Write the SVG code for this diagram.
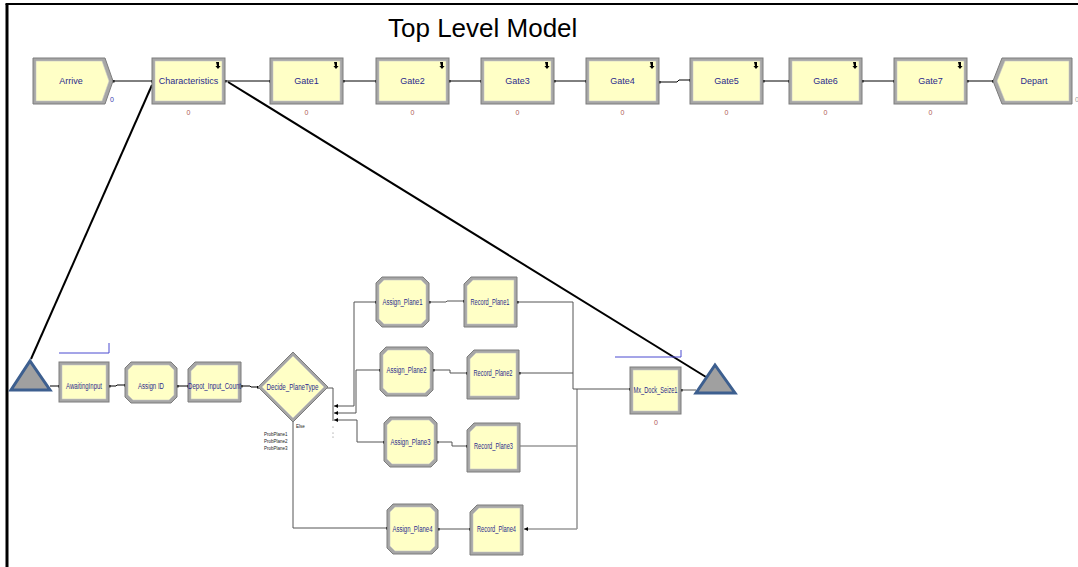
<svg xmlns="http://www.w3.org/2000/svg" width="1078" height="567" viewBox="0 0 1078 567">
<defs>
<style>
.o{fill:#a6a6a6;stroke:#7c7c7c;stroke-width:1}
.i{fill:#ffffc6;stroke:#c8c8c8;stroke-width:0.6}
.t{font-family:"Liberation Sans",Arial,sans-serif;font-size:9px;fill:#2b2b8c;text-anchor:middle}
.b{font-family:"Liberation Sans",Arial,sans-serif;font-size:8.5px;fill:#2b2b8c;text-anchor:middle}
.cnt{font-family:"Liberation Sans",Arial,sans-serif;font-size:7px;fill:#b05858;text-anchor:middle}
.sm{font-family:"Liberation Sans",Arial,sans-serif;font-size:4.5px;fill:#222}
.c{fill:none;stroke:#000;stroke-width:1}
.g{fill:none;stroke:#555;stroke-width:1}
.gg{fill:none;stroke:#999;stroke-width:1.6}
.thick{fill:none;stroke:#000;stroke-width:2}
.tri{fill:#a0a0a0;stroke:#3d5f8f;stroke-width:3;stroke-linejoin:miter}
.q{fill:none;stroke:#4a4ad0;stroke-width:1}
.ic{fill:#000}
</style>
<marker id="dot" viewBox="0 0 4 4" refX="2" refY="2" markerWidth="3" markerHeight="3" markerUnits="userSpaceOnUse"><rect width="4" height="4" fill="#000"/></marker>
<marker id="arr" viewBox="0 0 6 6" refX="6" refY="3" markerWidth="4" markerHeight="4" markerUnits="userSpaceOnUse" orient="auto"><path d="M0,0 L6,3 L0,6 z" fill="#000"/></marker>
<path id="icon" d="M0,0 h3 v4 h1.6 l-2.6,3 l-2.6,-3 h1.6 z"/>
</defs>
<rect width="1078" height="567" fill="#fff"/>
<path d="M7,567 V4" fill="none" stroke="#000" stroke-width="3"/>
<path d="M5.5,4 H1078" fill="none" stroke="#000" stroke-width="2"/>
<text x="388" y="37" font-family="Liberation Sans, Arial, sans-serif" font-size="26" fill="#000">Top Level Model</text>

<g id="connectors">
<path class="c" d="M113,81 H152" marker-start="url(#dot)" marker-end="url(#dot)"/>
<path class="c" d="M225,81 H270" marker-start="url(#dot)" marker-end="url(#dot)"/>
<path class="c" d="M343,81 H376" marker-start="url(#dot)" marker-end="url(#dot)"/>
<path class="c" d="M449,81 H481" marker-start="url(#dot)" marker-end="url(#dot)"/>
<path class="c" d="M554,81 H586" marker-start="url(#dot)" marker-end="url(#dot)"/>
<path class="c" d="M659,82 H677 L679,80 H690" marker-start="url(#dot)" marker-end="url(#dot)"/>
<path class="c" d="M763,81 H789" marker-start="url(#dot)" marker-end="url(#dot)"/>
<path class="c" d="M862,81 H894" marker-start="url(#dot)" marker-end="url(#dot)"/>
<path class="c" d="M967,81 H993" marker-start="url(#dot)" marker-end="url(#dot)"/>
<path class="thick" d="M152,85 L31,359"/>
<path class="thick" d="M228,82 L706,377"/>
<path class="c" d="M50,386 H59" marker-end="url(#dot)"/>
<path class="c" d="M109,386 H116 L117,385 H125" marker-start="url(#dot)" marker-end="url(#dot)"/>
<path class="c" d="M177,386 H188" marker-start="url(#dot)" marker-end="url(#dot)"/>
<path class="c" d="M241,386 H250 L251,387 H258" marker-start="url(#dot)" marker-end="url(#dot)"/>
<path class="g" d="M326,388 H333 V421"/>
<path class="g" d="M354,406 H334" marker-end="url(#arr)"/>
<path class="g" d="M356,413 H334" marker-end="url(#arr)"/>
<path class="g" d="M357,420 H334" marker-end="url(#arr)"/>
<path class="g" d="M354,406 V302 H376" marker-end="url(#dot)"/>
<path class="g" d="M356,413 V370 H380" marker-end="url(#dot)"/>
<path class="g" d="M357,420 V442 H384" marker-end="url(#dot)"/>
<path class="g" d="M293,422 V528 H387" marker-end="url(#dot)"/>
<circle cx="333" cy="427" r="0.6" fill="#777"/>
<circle cx="333" cy="433" r="0.6" fill="#777"/>
<circle cx="333" cy="437" r="0.6" fill="#777"/>
<path class="g" d="M429,302 H446 L447,301 H464" marker-start="url(#dot)" marker-end="url(#dot)"/>
<path class="g" d="M433,370 H450 V373 H467" marker-start="url(#dot)" marker-end="url(#dot)"/>
<path class="g" d="M437,442 H452 V446 H467" marker-start="url(#dot)" marker-end="url(#dot)"/>
<path class="g" d="M438,529 H470" marker-start="url(#dot)" marker-end="url(#dot)"/>
<path class="gg" d="M577,389 V529"/>
<path class="g" d="M517,302 H573 V389" marker-start="url(#dot)"/>
<path class="g" d="M519,373 H573" marker-start="url(#dot)"/>
<path class="gg" d="M520,446 H577"/>
<path class="gg" d="M577,529 H524" marker-end="url(#arr)"/>
<path class="g" d="M573,389 H630" marker-end="url(#dot)"/>
<path class="g" d="M681,390 H696" marker-start="url(#dot)"/>
</g>

<g id="arrive">
<polygon class="o" points="33,58 105,58 113,81 105,104 33,104"/>
<polygon class="i" points="36,61 102,61 109,81 102,101 36,101"/>
<text class="t" x="71" y="84">Arrive</text>
<text x="112" y="102" font-family="Liberation Sans, Arial, sans-serif" font-size="7" fill="#3a3ab0" text-anchor="middle">0</text>
</g>
<g id="characteristics">
<rect class="o" x="152" y="58" width="73" height="46"/>
<rect class="i" x="155" y="61" width="67" height="40"/>
<use href="#icon" x="216" y="62" class="ic"/>
<text class="t" x="188.5" y="84">Characteristics</text>
<text class="cnt" x="188.5" y="115">0</text>
</g>
<g id="gate1">
<rect class="o" x="270" y="58" width="73" height="46"/>
<rect class="i" x="273" y="61" width="67" height="40"/>
<use href="#icon" x="334" y="62" class="ic"/>
<text class="t" x="306.5" y="84">Gate1</text>
<text class="cnt" x="306.5" y="115">0</text>
</g>
<g id="gate2">
<rect class="o" x="376" y="58" width="73" height="46"/>
<rect class="i" x="379" y="61" width="67" height="40"/>
<use href="#icon" x="440" y="62" class="ic"/>
<text class="t" x="412.5" y="84">Gate2</text>
<text class="cnt" x="412.5" y="115">0</text>
</g>
<g id="gate3">
<rect class="o" x="481" y="58" width="73" height="46"/>
<rect class="i" x="484" y="61" width="67" height="40"/>
<use href="#icon" x="545" y="62" class="ic"/>
<text class="t" x="517.5" y="84">Gate3</text>
<text class="cnt" x="517.5" y="115">0</text>
</g>
<g id="gate4">
<rect class="o" x="586" y="58" width="73" height="46"/>
<rect class="i" x="589" y="61" width="67" height="40"/>
<use href="#icon" x="650" y="62" class="ic"/>
<text class="t" x="622.5" y="84">Gate4</text>
<text class="cnt" x="622.5" y="115">0</text>
</g>
<g id="gate5">
<rect class="o" x="690" y="58" width="73" height="46"/>
<rect class="i" x="693" y="61" width="67" height="40"/>
<use href="#icon" x="754" y="62" class="ic"/>
<text class="t" x="726.5" y="84">Gate5</text>
<text class="cnt" x="726.5" y="115">0</text>
</g>
<g id="gate6">
<rect class="o" x="789" y="58" width="73" height="46"/>
<rect class="i" x="792" y="61" width="67" height="40"/>
<use href="#icon" x="853" y="62" class="ic"/>
<text class="t" x="825.5" y="84">Gate6</text>
<text class="cnt" x="825.5" y="115">0</text>
</g>
<g id="gate7">
<rect class="o" x="894" y="58" width="73" height="46"/>
<rect class="i" x="897" y="61" width="67" height="40"/>
<use href="#icon" x="958" y="62" class="ic"/>
<text class="t" x="930.5" y="84">Gate7</text>
<text class="cnt" x="930.5" y="115">0</text>
</g>
<g id="depart">
<polygon class="o" points="1002,58 1072,58 1072,104 1002,104 993,81"/>
<polygon class="i" points="1005,61 1069,61 1069,101 1005,101 997,81"/>
<text class="t" x="1034" y="84">Depart</text>
<text x="1077" y="102" font-family="Liberation Sans, Arial, sans-serif" font-size="7" fill="#999" text-anchor="middle">0</text>
</g>

<g id="station-in">
<polygon class="tri" points="11,390 50,390 30,361"/>
</g>
<g id="awaitinginput">
<path class="q" d="M59,353 H109 V343"/>
<rect class="o" x="59" y="362" width="50" height="40"/>
<rect class="i" x="62" y="365" width="44" height="34"/>
<text class="b" x="84" y="389" textLength="36" lengthAdjust="spacingAndGlyphs">AwaitingInput</text>
</g>
<g id="assign-id">
<polygon class="o" points="131,362 171,362 177,368 177,397 171,403 131,403 125,397 125,368"/>
<polygon class="i" points="133,365 169,365 174,370 174,395 169,400 133,400 128,395 128,370"/>
<text class="b" x="151" y="389" textLength="26" lengthAdjust="spacingAndGlyphs">Assign ID</text>
</g>
<g id="depot-input-count">
<polygon class="o" points="195,362 241,362 241,402 188,402 188,369"/>
<polygon class="i" points="197,365 238,365 238,399 191,399 191,371"/>
<text class="b" x="214.5" y="389" textLength="53" lengthAdjust="spacingAndGlyphs">Depot_Input_Count</text>
</g>
<g id="decide-planetype">
<polygon class="o" points="258,387 293,352 328,387 293,422"/>
<polygon class="i" points="262,387 293,356 324,387 293,418"/>
<text class="b" x="292.5" y="390" textLength="52" lengthAdjust="spacingAndGlyphs">Decide_PlaneType</text>
<text class="sm" x="296" y="428">Else</text>
<text class="sm" x="264" y="436">ProbPlane1</text>
<text class="sm" x="264" y="443">ProbPlane2</text>
<text class="sm" x="264" y="450">ProbPlane3</text>
</g>
<g id="assign-plane1">
<polygon class="o" points="382,277 423,277 429,283 429,321 423,327 382,327 376,321 376,283"/>
<polygon class="i" points="384,280 421,280 426,285 426,319 421,324 384,324 379,319 379,285"/>
<text class="b" x="402.5" y="305" textLength="40" lengthAdjust="spacingAndGlyphs">Assign_Plane1</text>
</g>
<g id="record-plane1">
<polygon class="o" points="471,277 517,277 517,327 464,327 464,284"/>
<polygon class="i" points="473,280 514,280 514,324 467,324 467,286"/>
<text class="b" x="490" y="305" textLength="39" lengthAdjust="spacingAndGlyphs">Record_Plane1</text>
</g>
<g id="assign-plane2">
<polygon class="o" points="386,347 427,347 433,353 433,390 427,396 386,396 380,390 380,353"/>
<polygon class="i" points="388,350 425,350 430,355 430,388 425,393 388,393 383,388 383,355"/>
<text class="b" x="406.5" y="373" textLength="40" lengthAdjust="spacingAndGlyphs">Assign_Plane2</text>
</g>
<g id="record-plane2">
<polygon class="o" points="474,350 519,350 519,399 467,399 467,357"/>
<polygon class="i" points="476,353 516,353 516,396 470,396 470,359"/>
<text class="b" x="493" y="376" textLength="39" lengthAdjust="spacingAndGlyphs">Record_Plane2</text>
</g>
<g id="assign-plane3">
<polygon class="o" points="390,417 431,417 437,423 437,461 431,467 390,467 384,461 384,423"/>
<polygon class="i" points="392,420 429,420 434,425 434,459 429,464 392,464 387,459 387,425"/>
<text class="b" x="410.5" y="445" textLength="40" lengthAdjust="spacingAndGlyphs">Assign_Plane3</text>
</g>
<g id="record-plane3">
<polygon class="o" points="474,423 520,423 520,472 467,472 467,430"/>
<polygon class="i" points="476,426 517,426 517,469 470,469 470,432"/>
<text class="b" x="493.5" y="449" textLength="39" lengthAdjust="spacingAndGlyphs">Record_Plane3</text>
</g>
<g id="assign-plane4">
<polygon class="o" points="393,504 432,504 438,510 438,548 432,554 393,554 387,548 387,510"/>
<polygon class="i" points="395,507 430,507 435,512 435,546 430,551 395,551 390,546 390,512"/>
<text class="b" x="412.5" y="532" textLength="40" lengthAdjust="spacingAndGlyphs">Assign_Plane4</text>
</g>
<g id="record-plane4">
<polygon class="o" points="477,505 523,505 523,555 470,555 470,512"/>
<polygon class="i" points="479,508 520,508 520,552 473,552 473,514"/>
<text class="b" x="496.5" y="532" textLength="39" lengthAdjust="spacingAndGlyphs">Record_Plane4</text>
</g>
<g id="mx-dock-seize1">
<path class="q" d="M615,357 H681 V350"/>
<rect class="o" x="630" y="367" width="51" height="47"/>
<rect class="i" x="633" y="370" width="45" height="41"/>
<text class="b" x="655.5" y="393" textLength="44" lengthAdjust="spacingAndGlyphs">Mx_Dock_Seize1</text>
<text class="cnt" x="656" y="425">0</text>
</g>
<g id="station-out">
<polygon class="tri" points="696,393 735,393 715,365"/>
</g>
</svg>
